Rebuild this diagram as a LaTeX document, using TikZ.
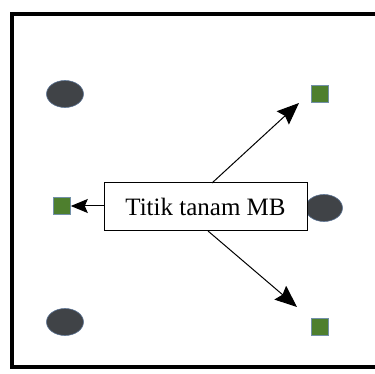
\documentclass[tikz,border=0pt]{standalone}
\usepackage{fontspec}
\setmainfont{Liberation Serif}
\usetikzlibrary{arrows.meta, shapes.geometric}

\definecolor{treegrey}{HTML}{404347}
\definecolor{treeedge}{HTML}{5C7393}
\definecolor{mbgreen}{HTML}{4E7F2E}
\definecolor{mbedge}{HTML}{7290A8}

\begin{document}
\begin{tikzpicture}[x=1pt, y=-1pt,
    tree/.style={ellipse, fill=treegrey, draw=treeedge, line width=0.6pt, minimum width=37pt, minimum height=27pt, inner sep=0pt},
    mb/.style={rectangle, fill=mbgreen, draw=mbedge, line width=0.6pt, minimum size=17pt, inner sep=0pt},
    pointer/.style={line width=1pt, -{Stealth[length=22pt, width=18pt, inset=3pt]}},
    shortpointer/.style={line width=1pt, -{Stealth[length=17pt, width=14pt, inset=3pt]}}]
    \useasboundingbox (0,0) rectangle (375,374);

    % frame
    \draw[line width=4pt] (375,14.5) -- (12,14.5) -- (12,367) -- (375,367);

    \node[tree] (T1) at (65,94) {};
    \node[tree] (T2) at (65,322) {};
    \node[tree] (T3) at (324,208) {};

    \node[mb] (M1) at (320,94) {};
    \node[mb] (M2) at (62,206) {};
    \node[mb] (M3) at (320,327) {};

    \node[draw, fill=white, line width=1pt, minimum width=203pt, minimum height=48pt, inner sep=0pt,
        font=\fontsize{25}{28}\selectfont] (label) at (205.5,207) {Titik tanam MB};

    % arrow ends
    \coordinate (top) at (212,183);
    \coordinate (bot) at (208,231);
    \coordinate (upend) at (299,103);
    \coordinate (downend) at (297,307);

    \draw[shortpointer] (label.west |- M2.east) -- (M2.east);
    \draw[pointer] (top) -- (upend);
    \draw[pointer] (bot) -- (downend);
\end{tikzpicture}
\end{document}
